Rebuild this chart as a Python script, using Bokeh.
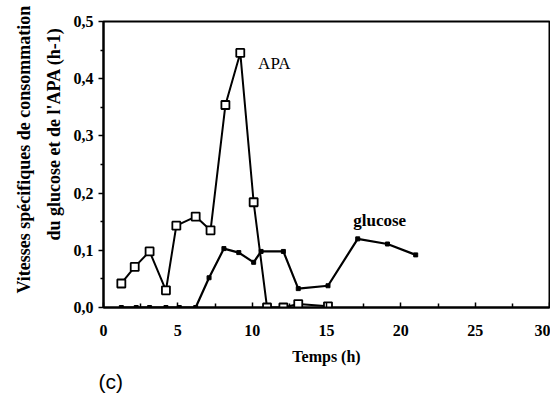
from bokeh.plotting import figure
from bokeh.models import Range1d, Label, FixedTicker, Title
from bokeh.embed import file_html
from bokeh.resources import INLINE

# --- data ---
time_apa = [1.2, 2.1, 3.1, 4.2, 4.9, 6.2, 7.2, 8.2, 9.2, 10.1, 11.0, 12.1, 13.1, 15.1]
apa_rate = [0.042, 0.071, 0.098, 0.030, 0.143, 0.159, 0.135, 0.354, 0.445, 0.184, 0.0, 0.0, 0.006, 0.002]
time_glc = [1.2, 2.2, 3.1, 4.2, 5.1, 6.2, 7.1, 8.1, 9.1, 10.1, 10.6, 12.1, 13.1, 15.1, 17.1, 19.1, 21.0]
glc_rate = [0.0, 0.0, 0.0, 0.0, 0.0, 0.0, 0.052, 0.103, 0.096, 0.079, 0.098, 0.098, 0.033, 0.038, 0.120, 0.111, 0.092]
x_ticks = [0, 5, 10, 15, 20, 25, 30]
y_ticks = [0.0, 0.1, 0.2, 0.3, 0.4, 0.5]
y_tick_labels = ["0,0", "0,1", "0,2", "0,3", "0,4", "0,5"]
x_minor = [2.5, 7.5, 12.5, 17.5, 22.5, 27.5]
y_minor = [0.05, 0.15, 0.25, 0.35, 0.45]
y_title_lines = ["Vitesses spécifiques de consommation", "du glucose et de l'APA (h-1)"]

SERIF = "Liberation Serif"

p = figure(width=550, height=394, output_backend="svg", toolbar_location=None,
           x_range=Range1d(0, 30), y_range=Range1d(0, 0.5),
           min_border_left=103, min_border_right=1, min_border_top=21, min_border_bottom=87)
p.xgrid.visible = False
p.ygrid.visible = False
p.outline_line_color = "black"
p.outline_line_width = 2
p.background_fill_color = "white"
p.border_fill_color = "white"

# x axis
xa = p.xaxis[0]
xa.ticker = FixedTicker(ticks=x_ticks, minor_ticks=x_minor)
xa.axis_line_width = 2
xa.axis_line_color = "black"
xa.major_tick_in = 5
xa.major_tick_out = 0
xa.minor_tick_in = 4
xa.minor_tick_out = 0
xa.major_tick_line_width = 1.5
xa.minor_tick_line_width = 1.5
xa.major_tick_line_color = "black"
xa.minor_tick_line_color = "black"
xa.major_label_standoff = 17
xa.major_label_text_font = SERIF
xa.major_label_text_font_style = "bold"
xa.major_label_text_font_size = "16px"
xa.major_label_text_color = "black"
xa.axis_label = "Temps (h)"
xa.axis_label_text_font = SERIF
xa.axis_label_text_font_style = "bold"
xa.axis_label_text_font_size = "16px"
xa.axis_label_text_color = "black"
xa.axis_label_standoff = 9

# y axis
ya = p.yaxis[0]
ya.ticker = FixedTicker(ticks=y_ticks, minor_ticks=y_minor)
ya.major_label_overrides = {t: l for t, l in zip(y_ticks, y_tick_labels)}
ya.axis_line_width = 2
ya.axis_line_color = "black"
ya.major_tick_in = 0
ya.major_tick_out = 5
ya.minor_tick_in = 0
ya.minor_tick_out = 3
ya.major_tick_line_width = 1.5
ya.minor_tick_line_width = 1.5
ya.major_tick_line_color = "black"
ya.minor_tick_line_color = "black"
ya.major_label_standoff = 5
ya.major_label_text_font = SERIF
ya.major_label_text_font_style = "bold"
ya.major_label_text_font_size = "16px"
ya.major_label_text_color = "black"

# y axis title: two lines as titles on the left side (inner line first)
for txt, so, off in zip(reversed(y_title_lines), [13, 4], [67, 14]):
    p.add_layout(Title(text=txt, align="left", offset=off, standoff=so,
                       text_font=SERIF, text_font_style="bold", text_font_size="18px",
                       text_color="black"), "left")

# panel label below
p.add_layout(Title(text="(c)", align="left", offset=-5, standoff=0,
                   text_font="Liberation Sans", text_font_style="normal",
                   text_font_size="21px", text_color="black"), "below")

# series
p.line(time_apa, apa_rate, line_color="black", line_width=2)
p.scatter(time_apa, apa_rate, marker="square", size=8, fill_color="white",
          line_color="black", line_width=1.8)
p.line(time_glc, glc_rate, line_color="black", line_width=2.2)
p.scatter(time_glc, glc_rate, marker="square", size=4, fill_color="black", line_color="black")

p.add_layout(Label(x=10.4, y=0.41, text="APA", text_font=SERIF, text_font_size="17px",
                   text_color="black"))
p.add_layout(Label(x=16.8, y=0.136, text="glucose", text_font=SERIF, text_font_size="17px",
                   text_font_style="bold", text_color="black"))

open("out.html", "w").write(file_html(p, INLINE))
